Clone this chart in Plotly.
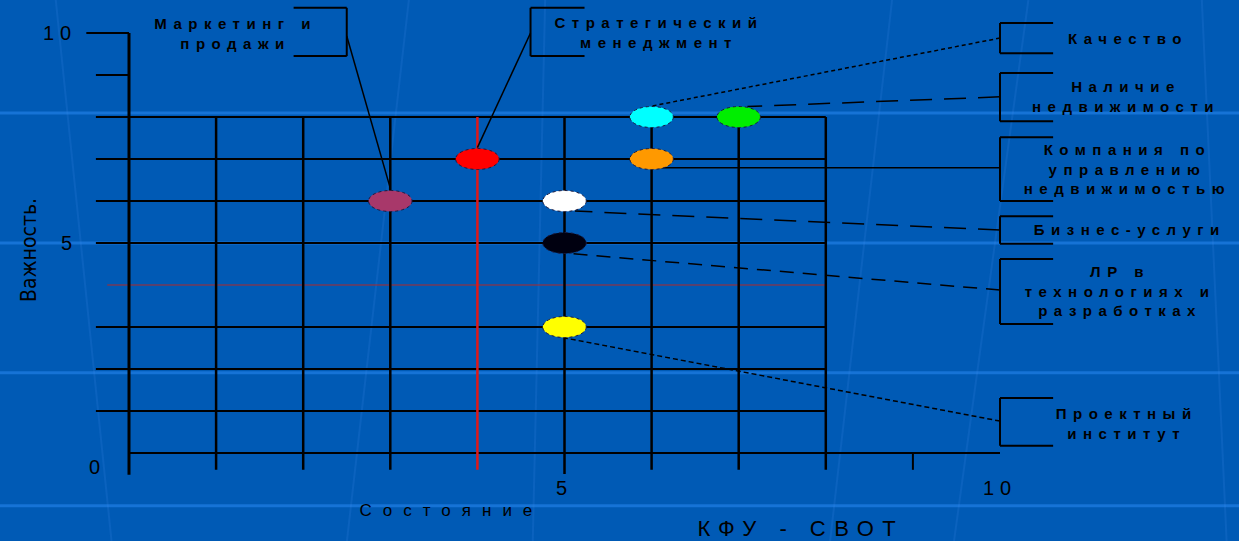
import json
import plotly.graph_objects as go

# ---- Факторы: состояние (ось X) и важность (ось Y) ----
factors = [
    "Маркетинг и продажи",
    "Стратегический менеджмент",
    "Качество",
    "Наличие недвижимости",
    "Компания по управлению недвижимостью",
    "Бизнес-услуги",
    "ЛР в технологиях и разработках",
    "Проектный институт",
]
state = [3, 4, 6, 7, 6, 5, 5, 5]
importance = [6, 7, 8, 8, 7, 6, 5, 3]
fill_colors = ["#A8386A", "#FF0000", "#00FFFF", "#00EE00",
               "#FF9900", "#FFFFFF", "#000010", "#FFFF00"]
label_texts = [
    "Маркетинг и<br>продажи",
    "Стратегический<br>менеджмент",
    "Качество",
    "Наличие<br>недвижимости",
    "Компания по<br>управлению<br>недвижимостью",
    "Бизнес-услуги",
    "ЛР в<br>технологиях и<br>разработках",
    "Проектный<br>институт",
]

x_tick_values = [5, 10]
y_tick_values = [0, 5, 10]
grid_values = [1, 2, 3, 4, 5, 6, 7, 8]

# ---- оформление ----
BG = "#005AB5"
INK = "#000000"
FONT = "Liberation Sans, Arial, sans-serif"
R = 0.25  # радиус маркера в единицах осей

# выноски: (x текста, y текста, x скобки, y0, y1, конец плеча, y точки на скобке,
#           смещение конца к маркеру dx, dy, штрих)
callouts = [
    (1.22, 10.00, 2.50, 9.45, 10.60, 1.89, 9.93, 0.00, 0.30, "solid"),
    (6.08, 10.02, 4.61, 9.45, 10.60, 5.23, 10.00, 0.00, 0.27, "solid"),
    (11.47, 9.88, 10.0, 9.52, 10.24, 10.61, 9.88, 0.00, 0.26, "4px,3px"),
    (11.45, 8.50, 10.0, 7.90, 9.05, 10.61, 8.48, 0.10, 0.25, "22px,12px"),
    (11.46, 6.76, 10.0, 6.00, 7.52, 10.61, 6.79, 0.08, -0.21, "solid"),
    (11.49, 5.31, 10.0, 4.98, 5.64, 10.61, 5.31, 0.12, -0.24, "22px,12px"),
    (11.38, 3.86, 10.0, 3.07, 4.62, 10.61, 3.88, 0.00, -0.24, "14px,9px"),
    (11.45, 0.71, 10.0, 0.17, 1.31, 10.61, 0.76, 0.00, -0.26, "5px,3px"),
]

shapes = []


def seg(x0, y0, x1, y1, color=INK, width=2, dash="solid", ref="data"):
    xr, yr = ("x", "y") if ref == "data" else ("paper", "paper")
    shapes.append(dict(type="line", xref=xr, yref=yr, x0=x0, y0=y0, x1=x1, y1=y1,
                       line=dict(color=color, width=width, dash=dash), layer="above"))


# фоновые светлые полосы слайда
for yp in [0.791, 0.551, 0.311, 0.065]:
    seg(0, yp, 1, yp, color="#1673D6", width=3, ref="paper")
for xt, xb in [(0.045, 0.09), (0.33, 0.28), (0.44, 0.43), (0.72, 0.67), (0.83, 0.77), (0.97, 0.99)]:
    seg(xt, 1, xb, 0, color="rgba(60,140,235,0.18)", width=2, ref="paper")

# сетка
for g in grid_values:
    if g == 4:
        continue
    seg(-0.38, g, 8, g, width=2)
seg(-0.38, 9, 0, 9, width=2)
seg(-0.49, 10, 0, 10, width=2)
seg(0, 0, 10, 0, width=2)
seg(-0.25, 4, 8, 4, color="#B02828", width=1)
for g in grid_values:
    if g == 4:
        continue
    seg(g, 8, g, -0.40 if g != 5 else -0.50, width=2.5)
seg(4, 8, 4, -0.40, color="#E01818", width=2.5)
seg(9, 0, 9, -0.40, width=2)
seg(0, 10, 0, -0.52, width=3)

# выноски
for (tx, ty, bx, by0, by1, ax, ay, odx, ody, dash), sx, sy in zip(callouts, state, importance):
    seg(bx, by0, bx, by1, width=2)
    seg(bx, by0, ax, by0, width=2)
    seg(bx, by1, ax, by1, width=2)
    seg(bx, ay, sx + odx, sy + ody, width=1.5, dash=dash)

# маркеры-эллипсы
for sx, sy, c in zip(state, importance, fill_colors):
    shapes.append(dict(type="circle", xref="x", yref="y",
                       x0=sx - R, x1=sx + R, y0=sy - R, y1=sy + R,
                       fillcolor=c, line=dict(color="#1A1A40", width=1, dash="dot"),
                       layer="above"))

annotations = []
spacing = []


def text(x, y, s, size, ls, angle=0, family=FONT, weight="normal"):
    annotations.append(dict(x=x, y=y, xref="x", yref="y", text=s, showarrow=False,
                            textangle=angle, align="center",
                            font=dict(family=family, size=size, color=INK, weight=weight)))
    spacing.append(ls)


for (tx, ty, *_), s in zip(callouts, label_texts):
    text(tx, ty, s, 15, 6.5, weight="bold")

text(-0.79, 10.0, "10", 20, 6)
text(-0.68, 5.0, "5", 20, 6)
text(-0.36, -0.33, "0", 20, 6)
for v in x_tick_values:
    text(v, -0.83, str(v), 20, 6)
text(3.70, -1.36, "Состояние", 17, 11)
text(7.72, -1.79, "КФУ - СВОТ", 22, 8.5)
text(-1.15, 4.83, "Важность.", 21, 0, angle=-90,
     family="Liberation Sans Narrow, DejaVu Sans Condensed, Arial Narrow, sans-serif")

fig = go.Figure()
fig.add_trace(go.Scatter(x=state, y=importance, mode="markers", text=factors,
                         hoverinfo="text", marker=dict(size=1, opacity=0),
                         showlegend=False))
fig.update_layout(
    width=1239, height=541,
    margin=dict(l=0, r=0, t=0, b=0),
    paper_bgcolor=BG, plot_bgcolor=BG,
    xaxis=dict(range=[-1.481, 12.744], visible=False, domain=[0, 1]),
    yaxis=dict(range=[-2.095, 10.786], visible=False, domain=[0, 1]),
    shapes=shapes,
    annotations=annotations,
    showlegend=False,
)

post = """
var gd = document.getElementById('{plot_id}');
var sp = %s;
gd.querySelectorAll('.annotation').forEach(function (g) {
  var i = +g.getAttribute('data-index');
  var t = g.querySelector('text');
  if (t && sp[i]) { t.style.letterSpacing = sp[i] + 'px'; }
});
""" % json.dumps(spacing)

fig.write_html("out.html", config={"displayModeBar": False}, post_script=post)
